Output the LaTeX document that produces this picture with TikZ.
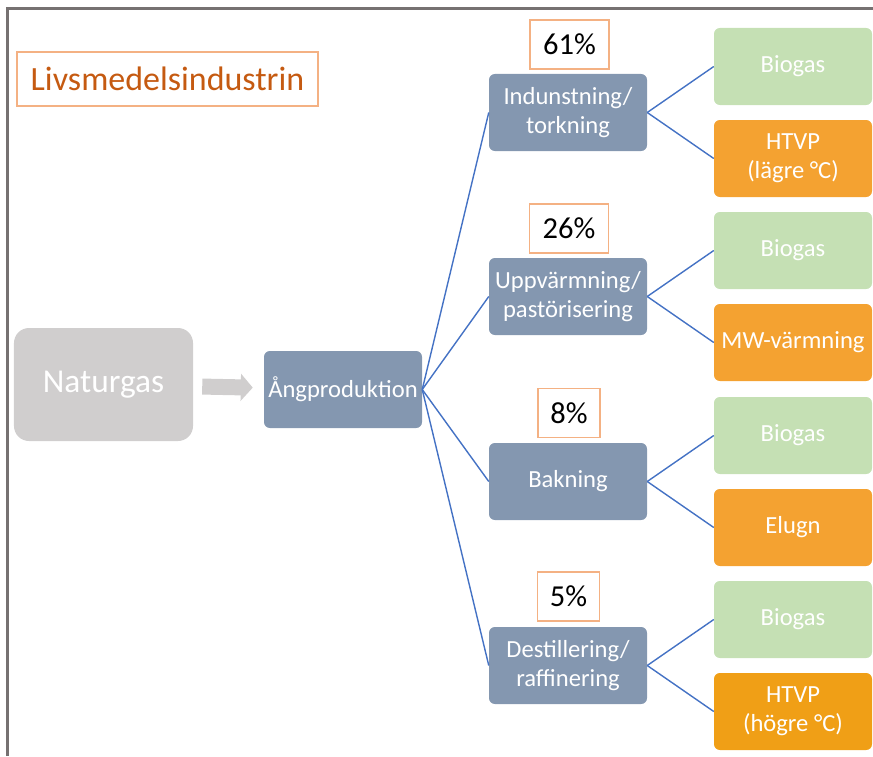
\documentclass[tikz,border=0pt]{standalone}
\usepackage{fontspec}
\setmainfont{Carlito}
\usetikzlibrary{arrows.meta,positioning}
\definecolor{procfill}{HTML}{8497B0}
\definecolor{biofill}{HTML}{C5E0B4}
\definecolor{altfill}{HTML}{F4A231}
\definecolor{altdark}{HTML}{F09F16}
\definecolor{gasgray}{HTML}{D0CECE}
\definecolor{pctline}{HTML}{F4B183}
\definecolor{titletext}{HTML}{C55A11}
\definecolor{linkblue}{HTML}{4472C4}
\definecolor{framegray}{HTML}{767171}

\begin{document}
\begin{tikzpicture}[x=0.03cm,y=-0.03cm,
  box/.style={rounded corners=5pt,minimum width=4.74cm,minimum height=2.31cm,
    text=white,align=center,inner sep=1pt,font=\fontsize{21}{25}\selectfont},
  proc/.style={box,fill=procfill},
  bio/.style={box,fill=biofill},
  alt/.style={box,fill=altfill},
  pct/.style={draw=pctline,line width=1.2pt,minimum height=1.47cm,
    font=\fontsize{26}{30}\selectfont},
  link/.style={linkblue,line width=1.2pt},
  feed/.style={gasgray,line width=0.48cm,shorten <=0.27cm,shorten >=0.33cm,
    -{Triangle[length=0.36cm,width=0.8cm]}}]
  \useasboundingbox (0,0) rectangle (873,756);
  \draw[framegray,line width=2.2pt] (7.5,756) -- (7.5,8.5) -- (873,8.5);

  % title
  \node[draw=pctline,line width=1pt,minimum width=9.03cm,minimum height=1.62cm,
    text=titletext,font=\fontsize{29}{33}\selectfont] (title) at (167.5,79) {Livsmedelsindustrin};

  % source
  \node[fill=gasgray,rounded corners=0.45cm,minimum width=5.37cm,minimum height=3.39cm,
    text=white,font=\fontsize{28.5}{33}\selectfont] (nat) at (103.5,384.5) {Naturgas};
  \node[proc] (ang) at (343,389.5) {Ångproduktion};
  \draw[feed] (nat) -- (ang);

  % processes
  \node[proc] (indu) at (568,112.5) {Indunstning/\\torkning};
  \node[proc] (uppv) at (568,296.5) {Uppvärmning/\\pastörisering};
  \node[proc] (bakn) at (568,481.5) {Bakning};
  \node[proc] (dest) at (568,665.5) {Destillering/\\raffinering};

  % shares
  \node[pct,minimum width=2.37cm] (p1) at (569.5,44.5) {61\%};
  \node[pct,minimum width=2.37cm] (p2) at (569,228.5) {26\%};
  \node[pct,minimum width=1.86cm] (p3) at (569,413) {8\%};
  \node[pct,minimum width=1.86cm] (p4) at (568.5,596.5) {5\%};

  % alternatives
  \node[bio] (bio1) at (793,66.5) {Biogas};
  \node[alt] (htvp1) at (793,158.5) {HTVP\\(lägre °C)};
  \node[bio] (bio2) at (793,250.5) {Biogas};
  \node[alt] (mw) at (793,342.5) {MW-värmning};
  \node[bio] (bio3) at (793,435.5) {Biogas};
  \node[alt] (elugn) at (793,527.5) {Elugn};
  \node[bio] (bio4) at (793,619.5) {Biogas};
  \node[alt,fill=altdark] (htvp2) at (793,711.5) {HTVP\\(högre °C)};

  \foreach \p in {indu,uppv,bakn,dest}
    \draw[link] (ang.east) -- (\p.west);
  \foreach \p/\a/\b in {indu/bio1/htvp1,uppv/bio2/mw,bakn/bio3/elugn,dest/bio4/htvp2}{
    \draw[link] (\p.east) -- (\a.west);
    \draw[link] (\p.east) -- (\b.west);
  }
\end{tikzpicture}
\end{document}
